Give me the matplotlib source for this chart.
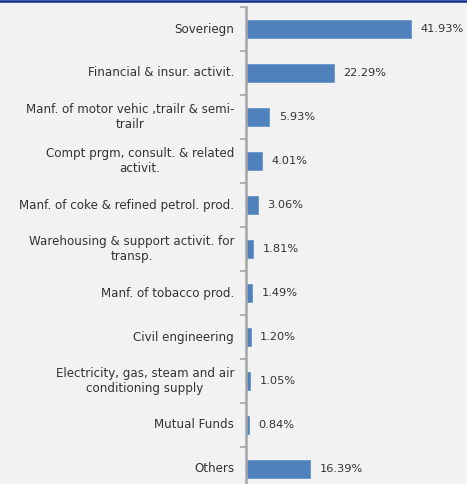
import numpy as np
import matplotlib.pyplot as plt

# sector exposure (% of portfolio)
sectors = [
    "Soveriegn",
    "Financial & insur. activit.",
    "Manf. of motor vehic ,trailr & semi-\ntrailr",
    "Compt prgm, consult. & related\nactivit.",
    "Manf. of coke & refined petrol. prod.",
    "Warehousing & support activit. for\ntransp.",
    "Manf. of tobacco prod.",
    "Civil engineering",
    "Electricity, gas, steam and air\nconditioning supply",
    "Mutual Funds",
    "Others",
]
weights = [41.93, 22.29, 5.93, 4.01, 3.06, 1.81, 1.49, 1.20, 1.05, 0.84, 16.39]

W, H = 467, 484
bg = "#F2F2F2"
plt.rcParams["font.family"] = ["DejaVu Sans"]

fig = plt.figure(figsize=(W / 100, H / 100), dpi=100, facecolor=bg)

# axes: top at y=7px, 44px per category, runs past the bottom edge
top_px, band = 7, 44
n = len(sectors)
ax_h = n * band
ax = fig.add_axes([246 / W, 1 - (top_px + ax_h) / H, 196.5 / W, ax_h / H])
ax.set_facecolor(bg)

y = np.arange(n)
ax.barh(y, weights, height=0.43, color="#4F81BD", edgecolor="#6A96CC", linewidth=0.6)
ax.set_xlim(0, 50)
ax.set_ylim(n - 0.5, -0.5)

for yi, v in zip(y, weights):
    ax.text(v + 2.4, yi, f"{v:.2f}%", va="center", ha="left", fontsize=8.2, color="#333333")

# category labels
ax.set_yticks([])
for yi, s in zip(y, sectors):
    ax.text(-3.0, yi, s, va="center", ha="right", fontsize=8.6, color="#333333",
            linespacing=1.12, multialignment="center")

# boundary ticks between categories
ax.set_yticks(np.arange(n + 1) - 0.5, minor=True)
ax.tick_params(axis="y", which="minor", length=4, width=1.2, color="#A6A6A6", direction="out")
ax.tick_params(axis="y", which="major", length=0)
ax.set_xticks([])

for side in ["top", "right", "bottom"]:
    ax.spines[side].set_visible(False)
ax.spines["left"].set_color("#A6A6A6")
ax.spines["left"].set_linewidth(1.8)

# dark blue rule along the top edge
fig.add_artist(plt.Line2D([0, 1], [1 - 1 / H, 1 - 1 / H], transform=fig.transFigure,
                          color="#0B2D8C", linewidth=1.8))

fig.savefig("out.png", dpi=100, facecolor=bg)
